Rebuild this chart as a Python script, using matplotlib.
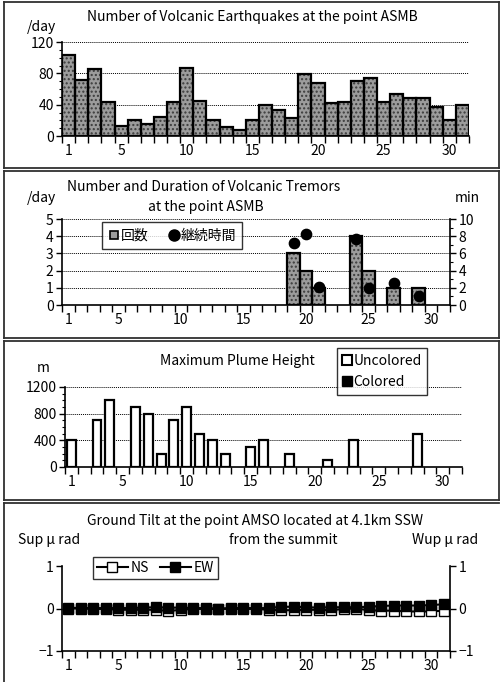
import numpy as np
import matplotlib
matplotlib.use("Agg")
import matplotlib.pyplot as plt
from matplotlib.patches import Rectangle
from matplotlib.lines import Line2D
from matplotlib.ticker import MultipleLocator

plt.rcParams['font.family'] = ['Noto Sans CJK JP', 'DejaVu Sans']
plt.rcParams['axes.unicode_minus'] = True

# ---- data ----
days = np.arange(1, 32)
eq_counts = [104, 72, 86, 43, 13, 20, 15, 24, 43, 87, 45, 20, 12, 8, 20, 40,
             33, 23, 79, 68, 42, 43, 70, 74, 43, 53, 48, 48, 37, 20, 39]

tremor_days = [19, 20, 21, 24, 25, 27, 29]
tremor_counts = [3, 2, 1, 4, 2, 1, 1]
tremor_minutes = [7.2, 8.3, 2.1, 7.7, 2.0, 2.6, 1.0]

plume_days = [1, 3, 4, 6, 7, 8, 9, 10, 11, 12, 13, 15, 16, 18, 21, 23, 28]
plume_heights = [400, 700, 1000, 900, 800, 200, 700, 900, 500, 400, 200,
                 300, 400, 200, 100, 400, 500]

tilt_ns = [0.0, 0.0, -0.01, -0.01, -0.03, -0.03, -0.03, -0.03, -0.06, -0.03,
           -0.01, -0.01, -0.01, -0.01, -0.01, -0.01, -0.03, -0.04, -0.04, -0.03,
           -0.03, -0.04, -0.01, 0.0, -0.04, -0.05, -0.05, -0.07, -0.07, -0.07, -0.05]
tilt_ew = [0.02, 0.01, 0.01, 0.01, 0.01, 0.01, 0.02, 0.03, 0.02, 0.02, 0.01,
           0.01, 0.0, 0.01, 0.01, 0.01, 0.01, 0.04, 0.04, 0.03, 0.02, 0.03,
           0.03, 0.03, 0.04, 0.06, 0.07, 0.07, 0.07, 0.08, 0.1]

xlabels = [1, 5, 10, 15, 20, 25, 30]

W, H = 501, 682
fig = plt.figure(figsize=(W / 100, H / 100), dpi=100)
FS = 10


def fx(px):
    return px / W


def fy(py):
    return 1 - py / H


def make_ax(l, r, t, b):
    return fig.add_axes([fx(l), fy(b), fx(r) - fx(l), (b - t) / H])


def category_x(ax, ticklen=5):
    ax.set_xlim(0.5, 31.5)
    ax.set_xticks(np.arange(0.5, 32, 1))
    ax.set_xticklabels([])
    ax.set_xticks(xlabels, minor=True)
    ax.set_xticklabels([str(v) for v in xlabels], minor=True, fontsize=FS)
    ax.tick_params(axis='x', which='major', direction='out', length=ticklen, width=1)
    ax.tick_params(axis='x', which='minor', length=0, pad=6)


def style(ax):
    for s in ['top', 'right']:
        ax.spines[s].set_visible(False)
    ax.spines['left'].set_linewidth(1.2)
    ax.spines['bottom'].set_linewidth(1.2)
    ax.tick_params(axis='y', which='major', direction='out', length=4, width=1,
                   labelsize=FS, pad=2)
    ax.tick_params(axis='y', which='minor', direction='out', length=2, width=0.8)


def grid(ax, vals):
    for v in vals:
        ax.axhline(v, color='black', lw=0.7, ls=(0, (1, 1)), zorder=0)


def hatched_bars(ax, x, h, width):
    ax.bar(x, h, width=width, color='#9c9c9c', edgecolor='none', zorder=2)
    ax.bar(x, h, width=width, color='none', edgecolor='#3c3c3c', hatch='....',
           linewidth=0, zorder=3)
    ax.bar(x, h, width=width, color='none', edgecolor='black', linewidth=1.6, zorder=4)


# panel frames
def frame(x0, y0, x1, y1, sides='lrtb'):
    if 'l' in sides:
        fig.add_artist(Line2D([fx(x0), fx(x0)], [fy(y0), fy(y1)], color='#303030', lw=1.3))
    if 'r' in sides:
        fig.add_artist(Line2D([fx(x1), fx(x1)], [fy(y0), fy(y1)], color='#303030', lw=1.3))
    if 't' in sides:
        fig.add_artist(Line2D([fx(x0), fx(x1)], [fy(y0), fy(y0)], color='#303030', lw=1.3))
    if 'b' in sides:
        fig.add_artist(Line2D([fx(x0), fx(x1)], [fy(y1), fy(y1)], color='#303030', lw=1.3))


frame(4, 1.5, 498.5, 168)
frame(4, 171, 498.5, 338)
frame(4, 341, 498.5, 500)
frame(4, 502.5, 498.5, 682, sides='lt')

# ---- panel 1: volcanic earthquakes ----
ax1 = make_ax(62, 469, 42, 136)
style(ax1)
grid(ax1, [40, 80, 120])
hatched_bars(ax1, days, eq_counts, 1.0)
ax1.set_ylim(0, 120)
ax1.set_yticks([0, 40, 80, 120])
ax1.yaxis.set_minor_locator(MultipleLocator(10))
category_x(ax1)
fig.text(fx(252), fy(17), 'Number of Volcanic Earthquakes at the point ASMB',
         ha='center', va='center', fontsize=FS)
fig.text(fx(41), fy(27), '/day', ha='center', va='center', fontsize=FS)

# ---- panel 2: volcanic tremors ----
ax2 = make_ax(62, 450, 219, 305)
style(ax2)
grid(ax2, [1, 2, 3, 4, 5])
hatched_bars(ax2, tremor_days, tremor_counts, 1.0)
ax2.set_ylim(0, 5)
ax2.set_yticks(range(6))
category_x(ax2)
ax2r = ax2.twinx()
ax2r.set_ylim(0, 10)
ax2r.set_yticks(range(0, 11, 2))
ax2r.yaxis.set_minor_locator(MultipleLocator(1))
for s in ['top', 'left', 'bottom']:
    ax2r.spines[s].set_visible(False)
ax2r.spines['right'].set_linewidth(1.2)
ax2r.tick_params(axis='y', which='major', direction='out', length=4, width=1,
                 labelsize=FS, pad=2)
ax2r.tick_params(axis='y', which='minor', direction='out', length=2, width=0.8)
ax2r.scatter(tremor_days, tremor_minutes, s=55, color='black', zorder=5, clip_on=False)
ax2r.set_xlim(0.5, 31.5)
fig.text(fx(204), fy(187), 'Number and Duration of Volcanic Tremors',
         ha='center', va='center', fontsize=FS)
fig.text(fx(206), fy(207), 'at the point ASMB', ha='center', va='center', fontsize=FS)
fig.text(fx(41), fy(198), '/day', ha='center', va='center', fontsize=FS)
fig.text(fx(467), fy(198), 'min', ha='center', va='center', fontsize=FS)
h_bar = Line2D([], [], marker='s', color='black', markerfacecolor='#9c9c9c',
               markeredgewidth=1.2, ls='none', markersize=6)
h_dot = Line2D([], [], marker='o', color='black', ls='none', markersize=8)
leg2 = ax2.legend([h_bar, h_dot], ['回数', '継続時間'], loc='upper left',
                  bbox_to_anchor=(fx(102), fy(222.5)), bbox_transform=fig.transFigure,
                  ncol=2, fontsize=FS, frameon=True, fancybox=False,
                  handlelength=0.8, handletextpad=0.1, columnspacing=1.4,
                  borderpad=0.45, borderaxespad=0)
leg2.get_frame().set_edgecolor('black')
leg2.get_frame().set_linewidth(1.0)
leg2.set_zorder(10)

# ---- panel 3: maximum plume height ----
ax3 = make_ax(65, 462, 387, 467)
style(ax3)
grid(ax3, [400, 800, 1200])
ax3.bar(plume_days, plume_heights, width=0.7, color='white', edgecolor='black',
        linewidth=1.6, zorder=3)
ax3.set_ylim(0, 1200)
ax3.set_yticks([0, 400, 800, 1200])
ax3.yaxis.set_minor_locator(MultipleLocator(100))
category_x(ax3)
fig.text(fx(237), fy(361), 'Maximum Plume Height', ha='center', va='center', fontsize=FS)
fig.text(fx(43), fy(368), 'm', ha='center', va='center', fontsize=FS)
h_unc = Line2D([], [], marker='s', color='black', markerfacecolor='white',
               markeredgewidth=1.5, ls='none', markersize=7)
h_col = Line2D([], [], marker='s', color='black', ls='none', markersize=7)
leg3 = ax3.legend([h_unc, h_col], ['Uncolored', 'Colored'], loc='upper left',
                  bbox_to_anchor=(fx(337), fy(348)), bbox_transform=fig.transFigure,
                  fontsize=FS, frameon=True, fancybox=False,
                  handlelength=0.7, handletextpad=0.1,
                  labelspacing=0.55, borderpad=0.4, borderaxespad=0)
leg3.get_frame().set_edgecolor('black')
leg3.get_frame().set_linewidth(1.0)

# ---- panel 4: ground tilt ----
ax4 = make_ax(62, 450, 566, 651)
style(ax4)
ax4.set_ylim(-1, 1)
ax4.set_yticks([-1, 0, 1])
category_x(ax4)
ax4.plot(days, tilt_ns, color='black', lw=1.5, marker='s', markersize=7.5,
         markerfacecolor='white', markeredgecolor='black', label='NS', zorder=3, clip_on=False)
ax4.plot(days, tilt_ew, color='black', lw=1.5, marker='s', markersize=7.5,
         markerfacecolor='black', markeredgecolor='black', label='EW', zorder=4, clip_on=False)
ax4r = ax4.twinx()
ax4r.set_ylim(-1, 1)
ax4r.set_yticks([-1, 0, 1])
for s in ['top', 'left', 'bottom']:
    ax4r.spines[s].set_visible(False)
ax4r.spines['right'].set_linewidth(1.2)
ax4r.tick_params(axis='y', direction='out', length=4, width=1, labelsize=FS, pad=2)
fig.text(fx(255), fy(521), 'Ground Tilt at the point AMSO located at 4.1km SSW',
         ha='center', va='center', fontsize=FS)
fig.text(fx(283), fy(540), 'from the summit', ha='center', va='center', fontsize=FS)
fig.text(fx(18), fy(540), 'Sup \u03bc rad', ha='left', va='center', fontsize=FS)
fig.text(fx(412), fy(540), 'Wup \u03bc rad', ha='left', va='center', fontsize=FS)
leg4 = ax4.legend(loc='upper left', bbox_to_anchor=(fx(93), fy(557)),
                  bbox_transform=fig.transFigure, ncol=2, fontsize=FS,
                  frameon=True, fancybox=False, handlelength=2.2, handletextpad=0.2,
                  columnspacing=0.8, borderpad=0.3, borderaxespad=0)
leg4.get_frame().set_edgecolor('black')
leg4.get_frame().set_linewidth(1.0)

fig.savefig('out.png', dpi=100)
